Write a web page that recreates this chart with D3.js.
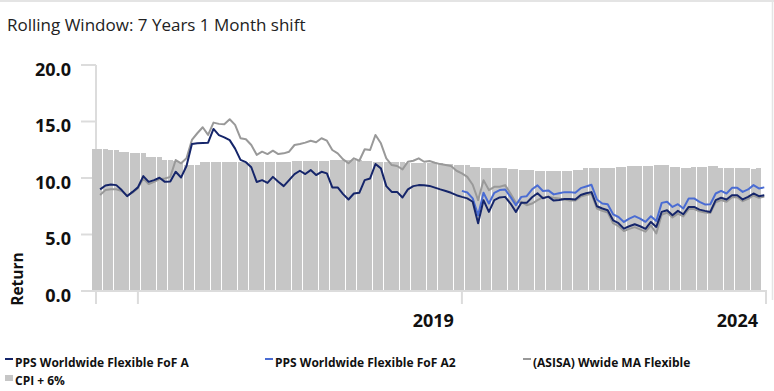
<!DOCTYPE html>
<html>
<head>
<meta charset="utf-8">
<script src="https://cdn.jsdelivr.net/npm/d3@7"></script>
<style>
  html, body { margin: 0; padding: 0; background: #fff; }
  svg { display: block; font-family: "Open Sans", "Noto Sans", sans-serif; }
</style>
</head>
<body>
<svg id="chart" width="774" height="391"></svg>
<script>
// Monthly rolling-window end dates: May 2013 .. Sep 2023
const months = d3.timeMonth.range(new Date(2013, 4, 1), new Date(2023, 9, 1));

// CPI + 6% (one value per month, last month not yet published)
const cpiPlus6 = [
  12.55,12.55,12.55,12.48,12.48,12.33,12.33,12.2,12.2,12.2,
  11.86,11.86,11.86,11.6,11.55,11.5,11.45,11.15,11.15,11.15,
  11.39,11.39,11.44,11.44,11.44,11.42,11.42,11.41,11.41,11.38,
  11.38,11.38,11.39,11.39,11.39,11.44,11.44,11.47,11.47,11.5,
  11.5,11.5,11.53,11.53,11.59,11.59,11.59,11.56,11.56,11.56,
  11.5,11.5,11.44,11.44,11.44,11.44,11.39,11.39,11.32,11.32,
  11.3,11.3,11.3,11.3,11.3,11.2,11.2,11.15,11.15,11.15,
  11.0,11.0,10.9,10.9,10.85,10.85,10.85,10.76,10.76,10.7,
  10.7,10.7,10.64,10.64,10.61,10.61,10.61,10.61,10.61,10.7,
  10.7,10.85,10.85,10.85,10.85,10.85,10.85,10.94,10.94,11.06,
  11.06,11.08,11.08,11.08,11.15,11.15,11.15,10.94,10.94,10.85,
  10.85,10.94,10.94,10.94,11.06,11.06,10.88,10.88,10.88,10.88,
  10.88,10.88,10.82,10.88, null
];

// PPS Worldwide Flexible FoF A (first month has no 7-year history)
const fofA = [null,
  8.99,9.34,9.43,9.37,8.93,8.39,8.77,9.17,10.17,9.66,
  9.81,10.02,9.66,9.70,10.55,10.05,11.06,13.01,13.07,13.1,
  13.13,14.34,13.8,13.6,13.35,12.6,11.6,11.4,10.95,9.65,
  9.81,9.57,10.1,9.66,9.28,9.81,10.35,10.64,10.35,10.7,
  10.26,10.55,10.41,9.17,9.17,8.57,8.10,8.63,8.69,9.81,
  9.96,11.24,10.85,9.28,8.77,8.77,8.28,8.99,9.28,9.37,
  9.35,9.3,9.15,8.99,8.85,8.69,8.48,8.33,8.2,7.9,
  6.0,8.04,7.0,8.04,8.28,8.33,7.74,7.0,7.8,7.8,
  8.3,8.65,8.2,8.35,8.0,8.05,8.15,8.15,8.1,8.5,
  8.65,8.75,7.5,7.3,7.15,6.26,6.0,5.52,5.73,5.91,
  5.73,5.5,6.11,5.67,7.0,7.15,6.71,7.09,6.79,7.44,
  7.44,7.2,7.09,7.0,8.04,8.25,8.1,8.48,8.48,8.1,
  8.33,8.63,8.39,8.48
];

// PPS Worldwide Flexible FoF A2 (class history starts Jan 2019)
const fofA2Start = new Date(2019, 0, 1);
const fofA2Values = [
  8.86,8.72,8.2,6.7,8.69,7.74,8.69,8.93,8.99,8.33,
  7.59,8.33,8.39,9.0,9.35,8.85,8.9,8.55,8.65,8.75,
  8.75,8.7,9.1,9.25,9.4,8.1,7.74,7.68,6.79,6.55,
  6.11,6.41,6.62,6.41,6.12,6.62,6.2,7.8,7.89,7.44,
  7.68,7.3,8.19,8.19,7.89,7.66,7.68,8.63,8.86,8.63,
  9.13,9.13,8.77,8.99,9.37,9.08,9.17
];

// (ASISA) Wwide MA Flexible sector average
const asisa = [null,
  8.5,8.93,9.01,9.0,8.85,8.45,8.7,9.1,9.95,9.46,
  9.66,9.9,9.96,10.1,11.59,11.3,11.74,13.37,13.96,14.49,
  13.81,14.9,14.79,14.75,15.2,14.7,13.52,13.43,12.92,12.05,
  12.33,12.12,12.42,12.12,12.18,12.33,12.92,13.01,13.13,13.3,
  13.16,13.52,13.3,12.48,12.18,11.65,11.3,11.74,11.53,12.54,
  12.48,13.81,13.07,11.74,11.15,11.06,10.76,11.44,11.53,11.74,
  11.44,11.5,11.35,11.23,11.15,11.06,10.64,10.41,10.1,9.4,
  8.04,9.81,8.93,9.22,9.22,9.37,8.63,7.8,7.89,7.59,
  7.74,8.04,8.28,8.33,8.25,8.19,8.1,8.0,8.0,8.35,
  8.5,8.6,7.3,7.1,6.95,6.0,5.75,5.3,5.5,5.65,
  5.45,5.25,5.8,5.1,6.75,6.95,6.5,6.85,6.6,7.25,
  7.25,7.05,6.95,6.9,7.85,8.05,7.9,8.3,8.3,7.95,
  8.15,8.45,8.25,8.35
];

const yTicks = [0, 5, 10, 15, 20];
// Tick months on the time axis; the final tick closes the axis at the right edge
const xTickMonths = [new Date(2014, 0, 1), new Date(2019, 0, 1), null];
const xTickLabels = ["", "2019", "2024"];

const legendItems = [
  { name: "PPS Worldwide Flexible FoF A", color: "#15256a", kind: "line" },
  { name: "PPS Worldwide Flexible FoF A2", color: "#4a6cd3", kind: "line" },
  { name: "(ASISA) Wwide MA Flexible", color: "#999999", kind: "line" },
  { name: "CPI + 6%", color: "#c6c6c6", kind: "box" }
];

// ---- layout ----
const plot = { left: 96, right: 767, top: 65, bottom: 291 };
const axisColor = "#dcdcdc";

const svg = d3.select("#chart");

const monthIndex = d => months.findIndex(m => +m === +d);
const fofA2 = months.map((m, i) => {
  const k = i - monthIndex(fofA2Start);
  return k >= 0 && k < fofA2Values.length ? fofA2Values[k] : null;
});

const x = d3.scaleBand()
  .domain(d3.range(months.length))
  .range([plot.left - 4, plot.right])
  .paddingInner(0)
  .paddingOuter(0);
const xc = i => x(i) + x.bandwidth() / 2;

const y = d3.scaleLinear().domain([0, 20]).range([plot.bottom, plot.top]);

// frame edges
svg.append("line").attr("x1", 0).attr("x2", 774).attr("y1", 1).attr("y2", 1)
  .attr("stroke", "#e4e4e4").attr("stroke-width", 2);
svg.append("line").attr("x1", 772.5).attr("x2", 772.5).attr("y1", 0).attr("y2", 300)
  .attr("stroke", "#e4e4e4").attr("stroke-width", 1.5);

// title
svg.append("text")
  .attr("x", 7).attr("y", 31)
  .attr("font-size", 17).attr("fill", "#222")
  .text("Rolling Window: 7 Years 1 Month shift");

// y axis: vertical rule and short tick marks
svg.append("line")
  .attr("x1", plot.left).attr("x2", plot.left)
  .attr("y1", plot.top).attr("y2", plot.bottom + 13)
  .attr("stroke", axisColor).attr("stroke-width", 2);

const yAxisG = svg.append("g");
yAxisG.selectAll("line").data(yTicks).join("line")
  .attr("x1", plot.left - 15).attr("x2", plot.left)
  .attr("y1", d => y(d)).attr("y2", d => y(d))
  .attr("stroke", axisColor).attr("stroke-width", 2);
yAxisG.selectAll("text").data(yTicks).join("text")
  .attr("x", plot.left - 25).attr("y", d => y(d) + 10.5)
  .attr("text-anchor", "end")
  .attr("font-size", 18).attr("font-weight", 700).attr("fill", "#111")
  .text(d => d3.format(".1f")(d));

svg.append("text")
  .attr("transform", `translate(23, ${279}) rotate(-90)`)
  .attr("text-anchor", "middle")
  .attr("font-size", 15.5).attr("font-weight", 700).attr("fill", "#111")
  .text("Return");

// CPI + 6% bars, snapped to whole pixels
const barW = Math.floor(x.step());
svg.append("g").attr("shape-rendering", "crispEdges")
  .selectAll("rect")
  .data(cpiPlus6.map((v, i) => ({ v, i })).filter(d => d.v != null))
  .join("rect")
  .attr("x", d => Math.round(x(d.i)))
  .attr("width", barW)
  .attr("y", d => Math.round(y(d.v)))
  .attr("height", d => Math.round(y(0)) - 1 - Math.round(y(d.v)))
  .attr("fill", "#c6c6c6");

// x axis line and ticks
svg.append("line")
  .attr("x1", plot.left - 15).attr("x2", plot.right)
  .attr("y1", plot.bottom).attr("y2", plot.bottom)
  .attr("stroke", axisColor).attr("stroke-width", 2);

const xTickPos = xTickMonths.map(m => m ? xc(monthIndex(m)) : plot.right - 1);
const xAxisG = svg.append("g");
xAxisG.selectAll("line").data(xTickPos).join("line")
  .attr("x1", d => d).attr("x2", d => d)
  .attr("y1", plot.bottom).attr("y2", plot.bottom + 13)
  .attr("stroke", axisColor).attr("stroke-width", 2);
xAxisG.selectAll("text").data(xTickPos).join("text")
  .attr("x", d => d - 8).attr("y", 327)
  .attr("text-anchor", "end")
  .attr("font-size", 18).attr("font-weight", 700).attr("fill", "#111")
  .text((d, i) => xTickLabels[i]);

// return series lines
const line = d3.line()
  .defined(d => d != null)
  .x((d, i) => xc(i))
  .y(d => y(d));

const series = [
  { values: asisa, color: legendItems[2].color },
  { values: fofA2, color: legendItems[1].color },
  { values: fofA, color: legendItems[0].color }
];
svg.append("g").selectAll("path").data(series).join("path")
  .attr("d", d => line(d.values))
  .attr("fill", "none")
  .attr("stroke", d => d.color)
  .attr("stroke-width", 2)
  .attr("stroke-linejoin", "round");

// legend
const legendPos = [[5, 362], [265, 362], [523, 362], [5, 380]];
const lg = svg.append("g").selectAll("g").data(legendItems).join("g")
  .attr("transform", (d, i) => `translate(${legendPos[i][0]}, ${legendPos[i][1]})`);
lg.filter(d => d.kind === "line").append("rect")
  .attr("x", 0).attr("y", -4).attr("width", 8).attr("height", 2)
  .attr("fill", d => d.color);
lg.filter(d => d.kind === "box").append("rect")
  .attr("x", 0).attr("y", -5).attr("width", 8).attr("height", 6)
  .attr("fill", d => d.color);
lg.append("text")
  .attr("x", 10).attr("y", 4.5)
  .attr("font-size", 12).attr("font-weight", 700).attr("fill", "#111")
  .text(d => d.name);
</script>
</body>
</html>
